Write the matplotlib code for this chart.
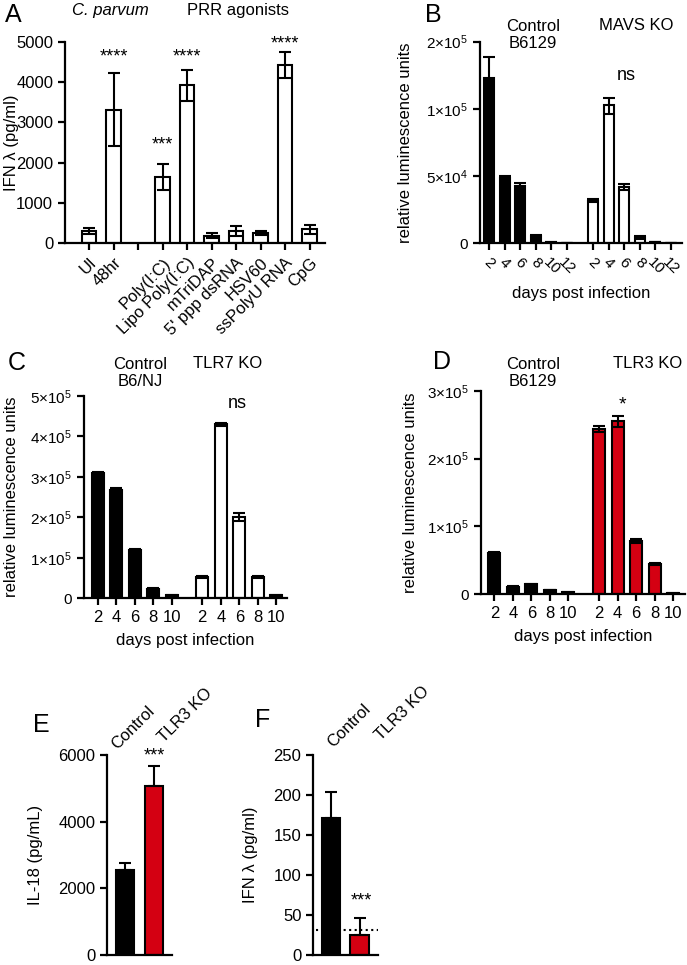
import numpy as np
import matplotlib
matplotlib.use("Agg")
import matplotlib.pyplot as plt

plt.rcParams['font.family'] = ['Liberation Sans', 'DejaVu Sans']
plt.rcParams['mathtext.fontset'] = 'custom'
plt.rcParams['mathtext.rm'] = 'Liberation Sans'
plt.rcParams['mathtext.it'] = 'Liberation Sans:italic'
plt.rcParams['font.size'] = 12

RED = '#d40012'

# ---- data ----
# A: IFN lambda, C. parvum and PRR agonists
a_labels = ["UI", "48hr", "", "Poly(I:C)", "Lipo Poly(I:C)", "mTriDAP",
            "5' ppp dsRNA", "HSV60", "ssPolyU RNA", "CpG"]
a_values = [308, 3317, np.nan, 1641, 3917, 192, 308, 267, 4417, 350]
a_err = [65, 910, np.nan, 330, 380, 55, 125, 50, 320, 110]

# B: MAVS KO
days_b = ["2", "4", "6", "8", "10", "12"]
b_ctrl = [1.46e5, 4.83e4, 4.25e4, 5.4e3, 600, 200]
b_ctrl_err = [3.1e4, 2e3, 2.5e3, 700, 200, 100]
b_ko = [3.17e4, 1.06e5, 4.2e4, 4.5e3, 1000, 100]
b_ko_err = [1.3e3, 1.0e4, 2.2e3, 1.0e3, 300, 50]

# C: TLR7 KO
days_cd = ["2", "4", "6", "8", "10"]
c_ctrl = [3.09e5, 2.68e5, 1.2e5, 2.4e4, 7e3]
c_ctrl_err = [3e3, 4e3, 2e3, 1.5e3, 1e3]
c_ko = [5.3e4, 4.3e5, 2.0e5, 5.2e4, 7e3]
c_ko_err = [2e3, 3e3, 1e4, 2e3, 1e3]

# D: TLR3 KO
d_ctrl = [6.0e4, 1.08e4, 1.44e4, 6e3, 2.5e3]
d_ctrl_err = [1.5e3, 1e3, 1e3, 500, 300]
d_ko = [2.44e5, 2.55e5, 7.9e4, 4.4e4, 1e3]
d_ko_err = [4e3, 8e3, 3e3, 1.5e3, 300]

# E / F
ef_groups = ["Control", "TLR3 KO"]
e_values = [2540, 5083]
e_err = [220, 590]
f_values = [171, 25]
f_err = [33, 21.5]
f_lod = 31

W, H = 687, 965
fig = plt.figure(figsize=(W / 100, H / 100), dpi=100)


def px_axes(x0, x1, ytop, ybot):
    return fig.add_axes([x0 / W, 1 - ybot / H, (x1 - x0) / W, (ybot - ytop) / H])


def ftext(x, y, s, **kw):
    kw.setdefault('ha', 'center')
    kw.setdefault('va', 'center')
    fig.text(x / W, 1 - y / H, s, **kw)


def style(ax):
    for s in ['top', 'right']:
        ax.spines[s].set_visible(False)
    for s in ['left', 'bottom']:
        ax.spines[s].set_linewidth(1.6)
    ax.tick_params(width=1.6, length=5, direction='out', labelsize=12)


bar_kw = dict(edgecolor='black', linewidth=1.5, zorder=2)
err_kw = dict(fmt='none', ecolor='black', elinewidth=1.5, capsize=4, capthick=1.5, zorder=3)

# ---- A ----
ax = px_axes(65, 325, 41.7, 243.3)
xa = np.arange(len(a_labels))
ax.bar(xa, a_values, width=0.6, color='white', **bar_kw)
ax.errorbar(xa, a_values, yerr=a_err, **err_kw)
ax.set_xlim(-0.98, 9.63)
ax.set_ylim(0, 5000)
ax.set_yticks([0, 1000, 2000, 3000, 4000, 5000])
ax.set_xticks(xa)
ax.set_xticklabels(a_labels, rotation=45, ha='right', rotation_mode='anchor')
ax.set_ylabel("IFN λ (pg/ml)")
ax.yaxis.set_label_coords(-0.175, 0.5)
style(ax)
ftext(13, 15, "A", fontsize=18)
ftext(110, 10, "C. parvum", style='italic')
ftext(238, 10, "PRR agonists")
ftext(114, 57, "****", fontsize=13)
ftext(187, 57, "****", fontsize=13)
ftext(285, 44, "****", fontsize=13)
ftext(162, 145, "***", fontsize=13)

# ---- B (segmented y axis) ----
def fwd(y):
    y = np.asarray(y, dtype=float)
    return np.where(y <= 1e5, y, 1e5 + (y - 1e5) / 2)


def inv(y):
    y = np.asarray(y, dtype=float)
    return np.where(y <= 1e5, y, 1e5 + (y - 1e5) * 2)


ax = px_axes(480, 681.7, 41.7, 243.3)
ax.set_yscale('function', functions=(fwd, inv))
xb1 = np.arange(len(days_b))
xb2 = xb1 + 6.67
ax.bar(xb1, b_ctrl, width=0.64, color='black', **bar_kw)
ax.bar(xb2, b_ko, width=0.64, color='white', **bar_kw)
ax.errorbar(xb1, b_ctrl, yerr=b_ctrl_err, **err_kw)
ax.errorbar(xb2, b_ko, yerr=b_ko_err, **err_kw)
ax.set_xlim(-0.58, 12.35)
ax.set_ylim(0, 2e5)
ax.set_yticks([0, 5e4, 1e5, 2e5])
ax.set_yticklabels(['0', r'$5{\times}10^4$', r'$1{\times}10^5$', r'$2{\times}10^5$'])
ax.yaxis.set_minor_locator(matplotlib.ticker.NullLocator())
ax.set_xticks(np.concatenate([xb1, xb2]))
ax.set_xticklabels(days_b + days_b, rotation=-45, ha='center', fontsize=11)
ax.set_ylabel("relative luminescence units")
ax.yaxis.set_label_coords(-0.33, 0.5)
ax.set_xlabel("days post infection")
ax.xaxis.set_label_coords(0.5, -0.21)
style(ax)
ax.tick_params(axis='y', labelsize=11)
ax.tick_params(axis='x', labelsize=11)
ftext(433, 15, "B", fontsize=18)
ftext(533, 35, "Control\nB6129", linespacing=1.2)
ftext(636, 25, "MAVS KO")
ftext(626, 75, "ns", fontsize=13)

# ---- C ----
ax = px_axes(84, 287, 396, 598.3)
xc1 = np.arange(len(days_cd))
xc2 = xc1 + 5.65
ax.bar(xc1, c_ctrl, width=0.65, color='black', **bar_kw)
ax.bar(xc2, c_ko, width=0.65, color='white', **bar_kw)
ax.errorbar(xc1, c_ctrl, yerr=c_ctrl_err, **err_kw)
ax.errorbar(xc2, c_ko, yerr=c_ko_err, **err_kw)
ax.set_xlim(-0.74, 10.23)
ax.set_ylim(0, 5e5)
ax.set_yticks([0, 1e5, 2e5, 3e5, 4e5, 5e5])
ax.set_yticklabels(['0'] + [r'$%d{\times}10^5$' % i for i in range(1, 6)])
ax.set_xticks(np.concatenate([xc1, xc2]))
ax.set_xticklabels(days_cd + days_cd)
ax.set_ylabel("relative luminescence units")
ax.yaxis.set_label_coords(-0.32, 0.5)
ax.set_xlabel("days post infection")
ax.xaxis.set_label_coords(0.5, -0.17)
style(ax)
ax.tick_params(axis='y', labelsize=11)
ftext(17, 363, "C", fontsize=18)
ftext(140, 373, "Control\nB6/NJ", linespacing=1.2)
ftext(228, 363, "TLR7 KO")
ftext(237, 404, "ns", fontsize=13)

# ---- D ----
ax = px_axes(481, 685, 391, 594)
xd1 = np.arange(len(days_cd))
xd2 = xd1 + 5.66
ax.bar(xd1, d_ctrl, width=0.65, color='black', **bar_kw)
ax.bar(xd2, d_ko, width=0.65, color=RED, **bar_kw)
ax.errorbar(xd1, d_ctrl, yerr=d_ctrl_err, **err_kw)
ax.errorbar(xd2, d_ko, yerr=d_ko_err, **err_kw)
ax.set_xlim(-0.72, 10.3)
ax.set_ylim(0, 3e5)
ax.set_yticks([0, 1e5, 2e5, 3e5])
ax.set_yticklabels(['0'] + [r'$%d{\times}10^5$' % i for i in range(1, 4)])
ax.set_xticks(np.concatenate([xd1, xd2]))
ax.set_xticklabels(days_cd + days_cd)
ax.set_ylabel("relative luminescence units")
ax.yaxis.set_label_coords(-0.31, 0.5)
ax.set_xlabel("days post infection")
ax.xaxis.set_label_coords(0.5, -0.17)
style(ax)
ax.tick_params(axis='y', labelsize=11)
ftext(442, 362, "D", fontsize=18)
ftext(533, 373, "Control\nB6129", linespacing=1.2)
ftext(648, 363, "TLR3 KO")
ftext(622, 405, "*", fontsize=14)

# ---- E ----
ax = px_axes(107, 172.3, 755, 955)
xe = np.arange(2)
ax.bar(xe, e_values, width=0.63, color=['black', RED], **bar_kw)
ax.errorbar(xe, e_values, yerr=[np.zeros(2), e_err], **err_kw)
ax.set_xlim(-0.62, 1.63)
ax.set_ylim(0, 6000)
ax.set_yticks([0, 2000, 4000, 6000])
ax.set_xticks([])
ax.set_ylabel("IL-18 (pg/mL)")
ax.yaxis.set_label_coords(-0.98, 0.5)
style(ax)
ftext(41, 725, "E", fontsize=18)
ftext(154, 756, "***", fontsize=13)
for (px, py), g in zip([(117, 750), (164, 743)], ef_groups):
    ftext(px, py, g, rotation=45, ha='left', va='baseline', rotation_mode='anchor')

# ---- F ----
ax = px_axes(313.3, 378.3, 755, 955)
xf = np.arange(2)
ax.bar(xf, f_values, width=0.65, color=['black', RED], **bar_kw)
ax.errorbar(xf, f_values, yerr=[np.zeros(2), f_err], **err_kw)
ax.axhline(f_lod, xmin=0.04, xmax=1.0, color='black', linestyle=':', linewidth=1.5, zorder=4)
ax.set_xlim(-0.62, 1.65)
ax.set_ylim(0, 250)
ax.set_yticks([0, 50, 100, 150, 200, 250])
ax.set_xticks([])
ax.set_ylabel("IFN λ (pg/ml)")
ax.yaxis.set_label_coords(-0.85, 0.5)
style(ax)
ftext(263, 720, "F", fontsize=18)
ftext(361, 901, "***", fontsize=13)
for (px, py), g in zip([(333, 748), (381, 741)], ef_groups):
    ftext(px, py, g, rotation=45, ha='left', va='baseline', rotation_mode='anchor')

fig.savefig("out.png", dpi=100)
